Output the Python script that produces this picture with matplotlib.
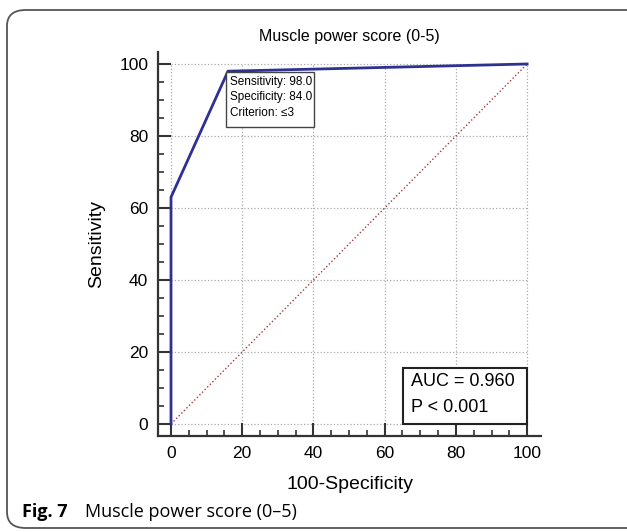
import matplotlib.pyplot as plt
from matplotlib.patches import FancyBboxPatch, Rectangle

plt.rcParams['font.family'] = ['Liberation Sans', 'DejaVu Sans']

# ROC curve points (100-Specificity, Sensitivity)
roc_x = [0, 0, 16, 100]
roc_y = [0, 63, 98, 100]
diag = [0, 100]
ticks = [0, 20, 40, 60, 80, 100]
title = "Muscle power score (0-5)"
point_text = "Sensitivity: 98.0\nSpecificity: 84.0\nCriterion: \u22643"
auc_text = "AUC = 0.960\nP < 0.001"

W, H = 627, 532
fig = plt.figure(figsize=(W / 100, H / 100), dpi=100)

# outer rounded frame
frame = FancyBboxPatch((7 / W, 4 / H), 1.2, (H - 14) / H,
                       boxstyle="round,pad=0,rounding_size=0.03",
                       transform=fig.transFigure, fill=False,
                       edgecolor='#555555', linewidth=1.3)
fig.patches.append(frame)

ax = fig.add_axes([158 / W, 96 / H, (541 - 158) / W, (436 - 52) / H])
ax.set_xlim(-3.65, 103.9)
ax.set_ylim(-3.33, 103.33)

# dotted grid restricted to the 0-100 range
for t in ticks:
    ax.plot([0, 100], [t, t], color='#aaaaaa', linestyle=':', linewidth=0.9, zorder=1)
    ax.plot([t, t], [0, 100], color='#aaaaaa', linestyle=':', linewidth=0.9, zorder=1)

ax.plot(diag, diag, color='#a8393d', linestyle=':', linewidth=1.0, zorder=2)
ax.plot(roc_x, roc_y, color='#2e3192', linewidth=2.0, zorder=3)

# criterion box
ax.add_patch(Rectangle((15.4, 82.5), 24.8, 15.3, facecolor='white',
                       edgecolor='#444444', linewidth=1.0, zorder=4))
ax.text(16.6, 96.6, point_text, fontsize=8.5, va='top', ha='left',
        linespacing=1.35, zorder=5)

# AUC box
ax.add_patch(Rectangle((65.2, 0), 34.8, 15.6, facecolor='white',
                       edgecolor='#222222', linewidth=1.5, zorder=4))
ax.text(67.4, 11.7, "AUC = 0.960", fontsize=13, va='center', ha='left', zorder=5)
ax.text(67.4, 4.7, "P < 0.001", fontsize=13, va='center', ha='left', zorder=5)

for s in ['top', 'right']:
    ax.spines[s].set_visible(False)
for s in ['left', 'bottom']:
    ax.spines[s].set_linewidth(1.6)
    ax.spines[s].set_color('#333333')

ax.set_xticks(ticks)
ax.set_yticks(ticks)
ax.set_xticks(range(0, 101, 5), minor=True)
ax.set_yticks(range(0, 101, 5), minor=True)
ax.tick_params(which='major', direction='in', length=9.3, width=1.5,
               color='#333333', labelsize=12.5, pad=7)
ax.tick_params(which='minor', direction='in', length=4.5, width=1.2,
               color='#333333')

ax.set_title(title, fontsize=11.5, pad=8)
ax.set_xlabel("100-Specificity", fontsize=14, labelpad=11)
ax.set_ylabel("Sensitivity", fontsize=14, labelpad=10)

fig.text(22 / W, 1 - 512 / H, "Fig. 7", fontsize=13, fontweight='bold',
         family=['Open Sans', 'DejaVu Sans'], va='center', ha='left')
fig.text(85 / W, 1 - 512 / H, "Muscle power score (0\u20135)", fontsize=13,
         family=['Open Sans', 'DejaVu Sans'], va='center', ha='left')

fig.savefig('out.png', dpi=100)
